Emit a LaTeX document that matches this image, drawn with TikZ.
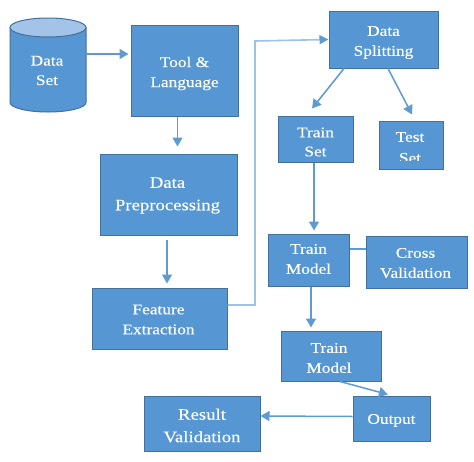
\documentclass[tikz,border=0pt]{standalone}
\usepackage{fontspec}
\setmainfont[FakeStretch=1.17,FakeBold=0.25]{Liberation Serif}
\usetikzlibrary{arrows.meta}
\definecolor{boxfill}{HTML}{5596D3}
\definecolor{boxedge}{HTML}{41719C}
\definecolor{topfill}{HTML}{A3C4E6}
\definecolor{arrowblue}{HTML}{5F9BD3}
\definecolor{lightline}{HTML}{9CC2E5}
\tikzset{
  box/.style={draw=boxedge,line width=1pt,fill=boxfill,inner sep=0pt},
  boxtext/.style={text=white,align=center,inner sep=0pt,font=\fontsize{14.8}{20}\selectfont},
  bigtext/.style={boxtext,font=\fontsize{16}{22.5}\selectfont},
  cylpart/.style={draw=boxedge,line width=1pt},
  conn/.style={draw=arrowblue,line width=1.5pt,-{Triangle[length=9pt,width=10pt]}},
  plainconn/.style={draw=arrowblue,line width=1.2pt},
  longconn/.style={draw=lightline,line width=1.6pt,-{Triangle[length=9pt,width=9pt,color=arrowblue]}},
}
\begin{document}
\begin{tikzpicture}[x=1pt,y=-1pt]
\useasboundingbox (0,0) rectangle (474,461);
\fill[white] (0,0) rectangle (474,461);
% cylinder
\path[cylpart,fill=boxfill] (10,27.5) -- (10,102.5) arc[start angle=180,end angle=360,x radius=38pt,y radius=9.5pt] -- (86,27.5) -- cycle;
\path[cylpart,fill=topfill] (48,27.5) ellipse[x radius=38pt,y radius=9.5pt];
\node[inner sep=0pt,minimum width=76pt,minimum height=94pt,
  label={[boxtext,font=\fontsize{14.8}{19.5}\selectfont,xshift=-1pt,yshift=-5.5pt]center:Data\\Set}] (ds) at (48,65) {};
\node[box,minimum width=107pt,minimum height=91pt,label={[boxtext,yshift=-3pt]center:Tool \&\\Language}] (tool) at (184.5,70.5) {};
\node[box,minimum width=137pt,minimum height=81pt,label={[bigtext,yshift=-1pt,xshift=-1pt]center:Data\\Preprocessing}] (prep) at (168.5,194.5) {};
\node[box,minimum width=135pt,minimum height=61pt,label={[boxtext,yshift=-1pt,xshift=-1pt]center:Feature\\Extraction}] (feat) at (159.5,318.5) {};
\node[box,minimum width=116pt,minimum height=55pt,label={[bigtext,yshift=-2pt]center:Result\\Validation}] (res) at (202,423.5) {};
\node[box,minimum width=109pt,minimum height=57pt,label={[boxtext,yshift=-3pt]center:Data\\Splitting}] (split) at (383.5,39.5) {};
\node[box,minimum width=75pt,minimum height=46pt,label={[boxtext,font=\fontsize{14.8}{19}\selectfont,yshift=-3pt]center:Train\\Set}] (trainset) at (315.5,139) {};
\node[box,minimum width=64pt,minimum height=48pt] (testset) at (411,145) {};
\begin{scope}
\clip (380,122) rectangle (442,160);
\node[boxtext,font=\fontsize{14.8}{21}\selectfont] (testlabel) at (410,147.5) {Test\\Set};
\end{scope}
\node[box,minimum width=81pt,minimum height=52pt,label={[boxtext,yshift=1pt]center:Train\\Model}] (tm1) at (308.5,260) {};
\node[box,minimum width=101pt,minimum height=52pt,label={[boxtext,yshift=-1pt,xshift=-1pt]center:Cross\\Validation}] (cv) at (416.5,262) {};
\node[box,minimum width=100pt,minimum height=50pt,label={[boxtext,yshift=-2pt,xshift=-2pt]center:Train\\Model}] (tm2) at (331,356) {};
\node[box,minimum width=77pt,minimum height=45pt,label={[boxtext,yshift=-2pt]center:Output}] (out) at (391.5,418.5) {};
\coordinate (bendlow) at (255,305);
\coordinate (bendhigh) at (255,41);
\draw[conn] ([yshift=11pt]ds.east) -- ([xshift=-2pt,yshift=16.5pt]tool.west);
\draw[conn] (tool.south) ++(-7,0) -- ++(0,30);
\draw[conn] ([xshift=-1.5pt,yshift=-4pt]prep.south) -- ([xshift=7.5pt,yshift=4pt]feat.north);
\draw[longconn] ([yshift=13.5pt]feat.east) -- (bendlow) -- (bendhigh) -- (split.west);
\draw[conn] ([xshift=-39.5pt]split.south) -- ([xshift=-3.5pt,yshift=7pt]trainset.north);
\draw[conn] ([xshift=4.5pt]split.south) -- ([xshift=1pt,yshift=6pt]testset.north);
\draw[conn] ([xshift=-1.5pt]trainset.south) -- ([xshift=5.5pt,yshift=3pt]tm1.north);
\draw[plainconn] ([yshift=11pt]tm1.east) -- ([yshift=13pt]cv.west);
\draw[conn] ([xshift=2.5pt]tm1.south) -- ([xshift=-20pt,yshift=3pt]tm2.north);
\draw[conn] ([xshift=9pt]tm2.south) -- ([xshift=-3.5pt,yshift=1pt]out.north);
\draw[conn] ([yshift=2pt]out.west) -- ([yshift=7.5pt]res.east);
\end{tikzpicture}
\end{document}
